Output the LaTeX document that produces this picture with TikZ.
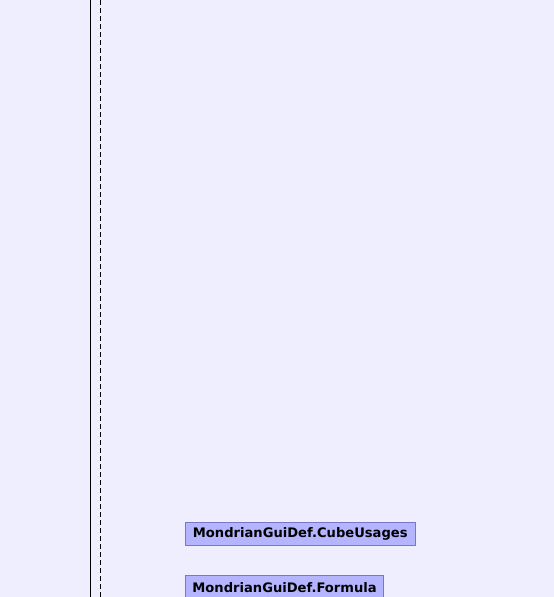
\documentclass[tikz,border=0pt]{standalone}
\usepackage{fontspec}
\setmainfont{DejaVu Sans}
\usetikzlibrary{positioning}
\definecolor{bgcolor}{RGB}{238,238,255}
\definecolor{boxfill}{RGB}{180,180,255}
\definecolor{boxline}{RGB}{120,120,200}
\tikzset{
	classbox/.style={draw=boxline, fill=boxfill, line width=0.8pt, inner xsep=7.5pt, inner ysep=0pt,
		minimum height=23pt, font=\bfseries\fontsize{13.1}{15}\selectfont, text=black}
}

\begin{document}
\begin{tikzpicture}[x=1pt, y=-1pt]
	% Fix the page and fill the background
	\useasboundingbox (0, 0) rectangle (554, 597);
	\clip (0, 0) rectangle (554, 597);
	\fill[bgcolor] (0, 0) rectangle (554, 597);
	
	% Draw lifeline and activation
	\coordinate (lifetop) at (90.7, 0);
	\coordinate (lifebot) at (90.7, 597);
	\draw[black, line width=1pt] (lifetop) -- (lifebot);
	\coordinate (acttop) at (100.7, 0);
	\coordinate (actbot) at (100.7, 597);
	\draw[black, line width=0.8pt, dash pattern=on 5pt off 3pt] (acttop) -- (actbot);
	
	% Class boxes
	\node[classbox, anchor=north west] (cubeusages) at (185, 522.3) {MondrianGuiDef.CubeUsages};
	\node[classbox, anchor=north west, inner xsep=7pt] (formula) at (185, 575.3) {MondrianGuiDef.Formula};
\end{tikzpicture}
\end{document}
